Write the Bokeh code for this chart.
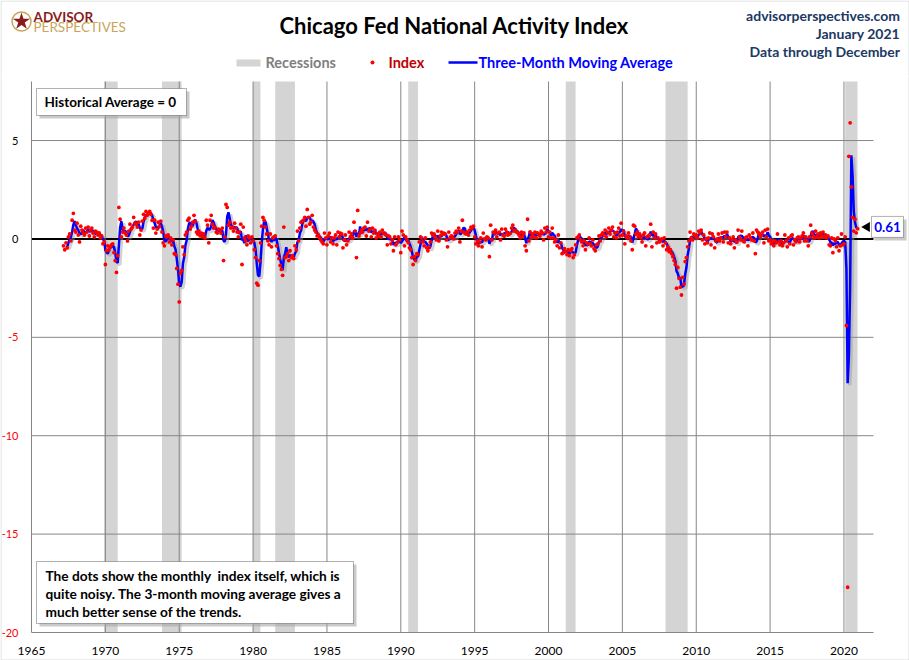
import numpy as np
import pandas as pd

from bokeh.plotting import figure
from bokeh.layouts import column
from bokeh.models import ColumnDataSource, FixedTicker, Label, BoxAnnotation, Range1d, LinearAxis
from bokeh.transform import dodge
from bokeh.embed import file_html
from bokeh.resources import INLINE

# CFNAI, monthly, Mar 1967 .. Dec 2020
idx_1967_69 = [
    -0.35, -0.55, -0.20, -0.45, 0.10, 0.25, -0.10, 0.95, 1.30, 0.45,
    0.35, 0.80, 0.20, -0.15, 0.65, 0.45, 0.30, 0.20, 0.55, 0.35, 0.60, 0.15,
    0.45, 0.55, 0.30, 0.10, 0.40, 0.35, 0.20, 0.30, 0.05, 0.15, -0.25, -0.15,
]
idx_1970s = [
    -1.30, -0.60, -0.35, -0.55, -0.40, -0.30, -0.25, -0.70, -1.10, -1.70, -0.85, 1.60,
    1.00, 0.10, 0.35, 0.55, 0.30, 0.20, -0.10, 0.40, 0.75, 0.50, 0.60, 1.10,
    0.80, 0.75, 0.60, 0.85, 0.20, 0.45, 0.90, 1.25, 1.05, 1.40, 1.20, 1.30,
    1.40, 1.25, 0.95, 0.55, 0.95, 0.30, 0.50, 0.85, 0.65, 0.90, 0.35, -0.20,
    -0.35, 0.15, 0.10, 0.20, -0.15, 0.05, -0.30, -0.05, -0.75, -0.80, -1.50, -2.30,
    -3.20, -1.75, -1.60, -0.40, -0.80, 0.20, 0.35, 0.95, 1.05, 0.50, 0.65, 0.85,
    1.20, 0.90, 0.35, 0.25, 0.40, 0.15, 0.30, 0.10, 0.25, 0.05, 0.95, 0.70,
    -0.20, 0.95, 1.20, 0.75, 0.55, 0.60, 0.35, 0.30, 0.50, 0.45, 0.30, 0.55,
    -1.10, 0.10, 1.75, 1.60, 0.70, 0.85, 0.55, 0.60, 0.40, 0.80, 0.55, 0.35,
    0.10, 0.35, 0.75, -1.30, 0.60, 0.05, -0.10, -0.30, 0.15, 0.05, -0.20, 0.10,
]
idx_1980s = [
    -0.10, -0.55, -0.95, -2.25, -2.35, -1.10, -0.20, 0.65, 1.10, 0.95, 0.60, 0.25,
    -0.10, -0.30, 0.25, -0.40, 0.05, 0.10, 0.15, -0.35, -0.75, -1.00, -1.35, -1.55,
    -1.85, 0.60, -0.95, -0.90, -0.75, -1.10, -0.60, -0.95, -0.85, -1.00, -0.35, -0.55,
    0.40, -0.10, 0.55, 0.85, 0.90, 0.95, 1.10, 0.65, 1.50, 1.10, 0.75, 0.85,
    1.20, 0.60, 0.45, 0.35, 0.15, 0.20, 0.05, -0.05, -0.15, -0.25, 0.30, 0.05,
    -0.30, 0.15, 0.30, -0.15, 0.05, -0.25, 0.05, 0.20, -0.30, 0.35, 0.10, 0.30,
    0.25, -0.45, -0.05, 0.20, -0.30, -0.10, 0.35, 0.10, 0.25, 0.05, 0.85, 0.40,
    -0.95, 1.45, 0.15, 0.30, 0.45, 0.35, 0.55, 0.60, 0.15, 0.85, 0.40, 0.50,
    0.10, 0.55, 0.30, 0.45, 0.05, 0.25, 0.15, 0.35, 0.10, 0.45, 0.30, 0.25,
    0.20, -0.30, 0.15, 0.10, -0.25, -0.05, -0.60, 0.10, -0.30, -0.20, 0.10, -0.05,
]
idx_1990s = [
    -0.70, 0.40, 0.20, -0.35, 0.10, -0.05, -0.20, -0.45, -0.55, -0.95, -1.30, -0.90,
    -1.10, -0.75, -0.80, -0.15, 0.10, 0.05, -0.15, -0.35, 0.05, -0.45, -0.60, -0.40,
    -0.15, 0.30, 0.20, 0.25, 0.10, -0.05, 0.40, -0.10, 0.15, 0.35, 0.25, 0.30,
    0.25, -0.05, -0.40, 0.35, 0.05, 0.15, 0.10, 0.00, 0.30, 0.40, 0.35, 0.55,
    -0.15, 0.40, 0.95, 0.35, 0.30, 0.25, 0.35, 0.20, 0.45, 0.60, 0.55, 0.65,
    0.10, -0.25, -0.10, -0.35, -0.15, 0.05, -0.40, 0.30, 0.00, -0.05, 0.10, 0.05,
    -0.90, 0.70, -0.05, 0.35, 0.30, 0.45, 0.10, 0.30, 0.35, -0.05, 0.50, 0.20,
    0.15, 0.50, 0.35, 0.20, 0.25, 0.30, 0.55, 0.70, 0.40, 0.45, 0.35, 0.30,
    0.20, 0.05, 0.35, 0.15, 0.30, -0.35, -0.60, 1.00, -0.10, 0.35, 0.10, 0.25,
    0.10, 0.35, 0.05, 0.30, 0.25, 0.15, 0.40, 0.30, -0.05, 0.55, 0.35, 0.60,
]
idx_2000s = [
    0.10, 0.35, 0.05, 0.55, 0.05, -0.15, -0.05, -0.35, 0.20, -0.45, -0.20, -0.75,
    -0.70, -0.50, -0.65, -0.80, -0.55, -0.85, -0.60, -0.50, -0.95, -0.80, -0.30, 0.05,
    0.10, 0.20, -0.05, -0.15, -0.35, -0.10, -0.55, -0.20, -0.25, 0.05, -0.25, -0.35,
    -0.05, -0.50, -0.60, -0.30, -0.25, 0.15, -0.10, 0.20, 0.30, 0.20, 0.45, 0.10,
    0.35, 0.55, 0.25, 0.45, 0.60, 0.10, 0.30, 0.05, 0.35, 0.55, 0.15, 0.80,
    0.20, 0.40, -0.25, 0.15, 0.05, 0.30, 0.10, -0.10, -0.55, 0.70, 0.65, 0.25,
    0.35, 0.10, 0.25, 0.05, -0.15, 0.20, 0.30, -0.35, 0.10, 0.15, 0.20, 0.75,
    -0.40, 0.35, 0.05, 0.25, -0.20, 0.05, -0.15, -0.10, 0.00, -0.35, 0.05, -0.20,
    -0.55, -0.40, -0.65, -0.55, -0.75, -0.90, -1.10, -1.30, -2.50, -1.45, -2.00, -2.45,
    -2.85, -1.95, -2.30, -1.15, -0.95, -0.40, -0.10, 0.35, 0.05, -0.05, 0.25, 0.15,
]
idx_2010s = [
    0.20, 0.05, 0.40, 0.30, 0.45, -0.05, 0.20, -0.25, 0.00, -0.20, 0.05, 0.30,
    -0.30, 0.25, 0.10, -0.45, -0.10, 0.00, 0.25, -0.10, 0.05, 0.30, -0.15, 0.35,
    0.10, 0.35, -0.20, 0.05, -0.25, -0.05, 0.10, -0.45, -0.05, -0.15, 0.45, 0.10,
    -0.05, 0.40, -0.10, -0.15, 0.05, 0.10, -0.35, 0.20, 0.05, -0.05, 0.30, -0.10,
    -0.75, 0.45, 0.35, 0.25, 0.10, 0.20, 0.35, -0.20, 0.45, 0.10, 0.50, -0.10,
    -0.05, -0.25, -0.15, -0.35, -0.10, -0.20, 0.25, -0.15, -0.30, -0.10, -0.35, -0.20,
    0.20, -0.10, -0.40, 0.05, -0.25, 0.15, 0.20, -0.30, -0.05, -0.15, 0.05, 0.10,
    -0.15, 0.05, 0.15, 0.30, -0.10, 0.10, -0.10, -0.35, 0.10, 0.70, 0.30, 0.15,
    0.05, 0.40, 0.10, 0.25, 0.05, 0.30, 0.15, 0.35, 0.10, 0.20, 0.05, 0.15,
    -0.30, -0.35, 0.05, -0.70, 0.00, -0.10, -0.40, 0.05, -0.60, -0.35, 0.25, -0.30,
]
idx_2020 = [-0.25, 0.10, -4.40, -17.70, 4.20, 5.90, 2.65, 1.10, 0.40, 1.00, 0.31, 0.52]

# NBER recessions (peak month, trough month); the last one runs to the end of the data
rec_start = ["1969-12", "1973-11", "1980-01", "1981-07", "1990-07", "2001-03", "2007-12", "2020-02"]
rec_end = ["1970-11", "1975-03", "1980-07", "1982-11", "1991-03", "2001-11", "2009-06", "2020-12"]

x_ticks = list(range(1965, 2021, 5))
y_ticks = [-20, -15, -10, -5, 0, 5]

X0, X1 = 1965, 2022
Y0, Y1 = -20, 8

FONT = "Lato"
GRID = "#868686"
NAVY = "#203864"
BORDER = "#8e8e8e"

# page layout in pixels
W, H = 909, 660
HEAD_H = 76
FRAME_L, FRAME_R, FRAME_T, FRAME_B = 31, 873, 81, 632
PX_X = (FRAME_R - FRAME_L) / (X1 - X0)
PX_Y = (FRAME_B - FRAME_T) / (Y1 - Y0)


def mx(px):
    return X0 + (px - FRAME_L) / PX_X


def my(py):
    return Y1 - (py - FRAME_T) / PX_Y


def dec_year(s):
    y, m = s.split("-")
    return int(y) + (int(m) - 1) / 12


index = idx_1967_69 + idx_1970s + idx_1980s + idx_1990s + idx_2000s + idx_2010s + idx_2020
dates = pd.date_range("1967-03-01", periods=len(index), freq="MS")
t = np.asarray(dates.year + (dates.month - 1) / 12.0, dtype=float)
ma = pd.Series(index).rolling(3).mean().to_numpy()

src = ColumnDataSource(data=dict(t=t, idx=index, ma=ma))
rec = ColumnDataSource(data=dict(left=[dec_year(s) for s in rec_start],
                                 right=[dec_year(s) for s in rec_end]))


def label(f, x, y, s, size, color, style="bold", align="left"):
    f.add_layout(Label(x=x, y=y, text=s, text_font=FONT, text_font_size=size, text_font_style=style,
                       text_color=color, text_align=align, text_baseline="middle"))


def box(f, l, r, t_, b, fill, line="black", alpha=1.0):
    f.add_layout(BoxAnnotation(left=l, right=r, top=t_, bottom=b, fill_color=fill, fill_alpha=alpha,
                               line_color=line, line_width=1))


def tidy(f):
    f.outline_line_color = None
    f.background_fill_color = "white"
    f.border_fill_color = "white"


# ---- main chart: the frame fills the canvas, axes sit at fixed data positions
p = figure(width=W, height=H - HEAD_H,
           x_range=Range1d(mx(0), mx(W)), y_range=Range1d(my(H), my(HEAD_H)),
           min_border=0, output_backend="svg", toolbar_location=None, title=None)
tidy(p)
p.grid.visible = False

p.xaxis.ticker = FixedTicker(ticks=x_ticks)
p.xaxis.fixed_location = Y0
p.xaxis.bounds = (X0, X1)
p.xaxis.major_label_standoff = 8
p.xaxis.major_label_text_color = "black"

neg_ticks = [v for v in y_ticks if v < 0]
p.yaxis.ticker = FixedTicker(ticks=neg_ticks)
p.yaxis.major_label_overrides = {v: str(v) for v in neg_ticks}   # plain hyphen
p.yaxis.fixed_location = X0
p.yaxis.bounds = (Y0, Y1)
p.yaxis.major_label_standoff = 7
p.yaxis.major_label_text_color = "#ff0000"

pos_axis = LinearAxis(ticker=FixedTicker(ticks=[v for v in y_ticks if v >= 0]),
                      fixed_location=X0, bounds=(Y0, Y1), axis_line_color=None,
                      major_label_standoff=7, major_label_text_color="black")
p.add_layout(pos_axis, "left")

for ax in p.axis:
    ax.axis_line_color = GRID if ax is not pos_axis else None
    ax.major_tick_line_color = None
    ax.minor_tick_line_color = None
    ax.major_label_text_font = FONT
    ax.major_label_text_font_size = "12px" if ax in p.xaxis else "11px"

p.quad(left="left", right="right", top=Y1, bottom=Y0, source=rec,
       fill_color="#d4d4d4", line_color=None, level="image")

# grid lines only inside the plotting area
p.segment(x0=x_ticks[1:], x1=x_ticks[1:], y0=Y0, y1=Y1, line_color=GRID, line_width=1, level="underlay")
grid_y = [v for v in y_ticks if v not in (Y0, 0)]
p.segment(x0=X0, x1=X1, y0=grid_y, y1=grid_y, line_color=GRID, line_width=1, level="underlay")
p.segment(x0=[X0], x1=[X1], y0=[0], y1=[0], line_color="black", line_width=2, level="underlay")

# soft shadow under the moving average
p.line(x=dodge("t", 0.14, range=p.x_range), y=dodge("ma", -0.1, range=p.y_range), source=src,
       line_color="#9a9a9a", line_alpha=0.45, line_width=3.5)
p.line("t", "ma", source=src, line_color="#0000ff", line_width=2.5)
p.scatter("t", "idx", source=src, size=3.8, fill_color="#ff0000", line_color=None)

box(p, mx(39), mx(189), my(91), my(118), "#a6a6a6", line=None, alpha=0.6)
box(p, mx(36), mx(186), my(88), my(115), "white")
label(p, mx(44), my(101.5), "Historical Average = 0", "13.5px", "black")

box(p, mx(39), mx(356), my(564), my(626), "#a6a6a6", line=None, alpha=0.6)
box(p, mx(36), mx(353), my(561), my(623), "white")
label(p, mx(45), my(574.5), "The dots show the monthly\u00a0 index itself, which is", "13.7px", "black")
label(p, mx(45), my(592.5), "quite noisy. The 3-month moving average gives a", "13.7px", "black")
label(p, mx(45), my(610.5), "much better sense of the trends.", "13.7px", "black")

# callout with the latest moving average
t_last, ma_last = t[-1], ma[-1]
p.scatter(x=[t_last + 9.5 / PX_X], y=[ma_last], marker="triangle", angle=np.pi / 2,
          size=10, fill_color="black", line_color=None)
half, sh = 10.5 / PX_Y, 3 / PX_Y
box(p, mx(874), mx(906), ma_last + half - sh, ma_last - half - sh, "#a6a6a6", line=None, alpha=0.6)
box(p, mx(871), mx(903), ma_last + half, ma_last - half, "white")
label(p, mx(887), ma_last, f"{ma_last:.2f}", "13.5px", "#0000ff", align="center")

# thin frame round the whole picture (its top edge lives in the header)
p.add_layout(BoxAnnotation(left=mx(0.5), right=mx(W - 0.5), top=my(HEAD_H - 2), bottom=my(H - 0.5),
                           fill_color=None, line_color=BORDER, line_width=1))

# ---- header strip
head = figure(width=W, height=HEAD_H, x_range=Range1d(0, W), y_range=Range1d(HEAD_H, 0),
              x_axis_type=None, y_axis_type=None, min_border=0,
              output_backend="svg", toolbar_location=None, title=None)
tidy(head)
head.add_layout(BoxAnnotation(left=0.5, right=W - 0.5, top=0.5, bottom=HEAD_H + 2,
                              fill_color=None, line_color=BORDER, line_width=1))
head.scatter(x=[21], y=[21], size=19, marker="circle", fill_color=None,
             line_color="#c9a45a", line_width=1.5)
head.scatter(x=[21], y=[21], size=18, marker="star", fill_color="#8b1a1a", line_color=None)
label(head, 33, 16, "ADVISOR", "13.5px", "#8b1a1a")
label(head, 33, 26.5, "PERSPECTIVES", "13.5px", "#c9a45a", style="normal")
label(head, 454, 25, "Chicago Fed National Activity Index", "22px", "black", align="center")
label(head, 899.5, 15, "advisorperspectives.com", "14px", NAVY, align="right")
label(head, 899.5, 33, "January 2021", "14px", NAVY, align="right")
label(head, 899.5, 51, "Data through December", "14px", NAVY, align="right")

head.quad(left=[236], right=[260], top=[59], bottom=[66], fill_color="#d4d4d4", line_color=None)
label(head, 265, 62, "Recessions", "14.5px", "#7f7f7f")
head.scatter(x=[372], y=[62], size=4, fill_color="#ff0000", line_color=None)
label(head, 388, 62, "Index", "14.5px", "#c00000")
head.line(x=[448, 477], y=[62, 62], line_color="#0000ff", line_width=2.5)
label(head, 478, 62, "Three-Month Moving Average", "14.5px", "#0000ff")

open("out.html", "w").write(file_html(column(head, p), INLINE))
